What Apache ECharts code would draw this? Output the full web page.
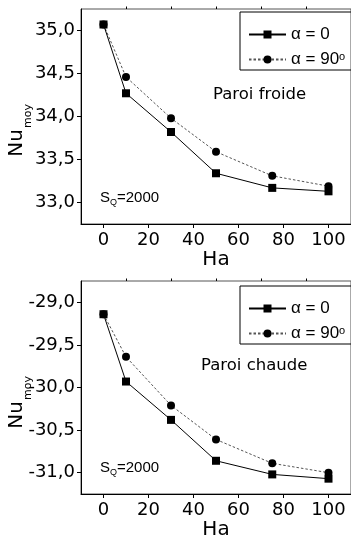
<!DOCTYPE html>
<html>
<head>
<meta charset="utf-8">
<script src="https://cdn.jsdelivr.net/npm/echarts@6/dist/echarts.min.js"></script>
<style>
html,body{margin:0;padding:0;background:#fff;}
#c{width:351px;height:543px;}
</style>
</head>
<body>
<div id="c"></div>
<script>
const haValues = [0, 10, 30, 50, 75, 100];
const coldAlpha0 = [35.07, 34.27, 33.82, 33.34, 33.17, 33.13];
const coldAlpha90 = [35.07, 34.46, 33.98, 33.59, 33.31, 33.19];
const hotAlpha0 = [-29.14, -29.93, -30.38, -30.86, -31.02, -31.07];
const hotAlpha90 = [-29.14, -29.64, -30.21, -30.61, -30.89, -31.00];
const xTicks = [0, 20, 40, 60, 80, 100];
const xMinorTicks = [10, 30, 50, 70, 90];
const coldYTicks = [33.0, 33.5, 34.0, 34.5, 35.0];
const coldYMinor = [33.25, 33.75, 34.25, 34.75];
const hotYTicks = [-31.0, -30.5, -30.0, -29.5, -29.0];
const hotYMinor = [-30.75, -30.25, -29.75, -29.25];
const seriesNames = ['α = 0', 'α = 90°'];

const FONT = 'DejaVu Sans';
const chart = echarts.init(document.getElementById('c'), null, {renderer: 'canvas'});

function pairs(xs, ys) { return xs.map((x, i) => [x, ys[i]]); }
function fmt(v) { return v.toFixed(1).replace('.', ','); }

function mainX(gi) {
  return {
    type: 'value', gridIndex: gi, min: -10, max: 110,
    name: 'Ha', nameLocation: 'middle', nameGap: 26,
    nameTextStyle: {fontFamily: FONT, fontSize: 20, color: '#000'},
    axisLine: {show: true, onZero: false, lineStyle: {color: '#000', width: 1}},
    axisTick: {show: true, inside: false, length: 4, customValues: xTicks, lineStyle: {color: '#000'}},
    axisLabel: {show: true, customValues: xTicks, margin: 7, fontFamily: FONT, fontSize: 18, color: '#000'},
    splitLine: {show: false}
  };
}
function minorX(gi) {
  return {
    type: 'value', gridIndex: gi, min: -10, max: 110,
    axisLine: {show: false, onZero: false},
    axisTick: {show: true, length: 2.5, customValues: xMinorTicks, lineStyle: {color: '#000'}},
    axisLabel: {show: false},
    splitLine: {show: false}
  };
}
function mainY(gi, mn, mx, ticks) {
  return {
    type: 'value', gridIndex: gi, min: mn, max: mx,
    axisLine: {show: true, onZero: false, lineStyle: {color: '#000', width: 1}},
    axisTick: {show: true, length: 4, customValues: ticks, lineStyle: {color: '#000'}},
    axisLabel: {show: true, customValues: ticks, margin: 6, fontFamily: FONT, fontSize: 18, color: '#000', formatter: fmt},
    splitLine: {show: false}
  };
}
function minorY(gi, mn, mx, ticks) {
  return {
    type: 'value', gridIndex: gi, min: mn, max: mx,
    axisLine: {show: false, onZero: false},
    axisTick: {show: true, length: 2.5, customValues: ticks, lineStyle: {color: '#000'}},
    axisLabel: {show: false},
    splitLine: {show: false}
  };
}
function s0(name, xi, yi, data) {
  return {
    name: name, type: 'line', xAxisIndex: xi, yAxisIndex: yi, data: data,
    symbol: 'rect', symbolSize: 8, z: 4,
    lineStyle: {color: '#000', width: 1, type: 'solid'},
    itemStyle: {color: '#000'},
    animation: false
  };
}
function s90(name, xi, yi, data) {
  return {
    name: name, type: 'line', xAxisIndex: xi, yAxisIndex: yi, data: data,
    symbol: 'circle', symbolSize: 8, z: 3,
    lineStyle: {color: '#555', width: 1, type: [2.5, 2]},
    itemStyle: {color: '#000'},
    animation: false
  };
}
function legend(top) {
  return {
    left: 240, top: top, orient: 'vertical',
    data: seriesNames,
    itemWidth: 37, itemHeight: 10, itemGap: 8,
    padding: [14, 8, 2, 8],
    borderColor: '#000', borderWidth: 1,
    selectedMode: false,
    textStyle: {fontFamily: 'Liberation Sans', fontSize: 17, color: '#000',
      rich: {sup: {fontFamily: 'Liberation Sans', fontSize: 11, verticalAlign: 'top'}}},
    formatter: function (n) { return n === 'α = 90°' ? 'α = 90{sup|o}' : n; }
  };
}
function yName(cy) {
  return [
    {type: 'text', x: 17, y: cy, rotation: Math.PI / 2,
     style: {text: 'Nu', fontFamily: FONT, fontSize: 20, fill: '#000', textAlign: 'center', textVerticalAlign: 'middle'}},
    {type: 'text', x: 28, y: cy - 27, rotation: Math.PI / 2,
     style: {text: 'moy', fontFamily: FONT, fontSize: 11, fill: '#000', textAlign: 'center', textVerticalAlign: 'middle'}}
  ];
}
function sq(cx, cy) {
  return [
    {type: 'text', x: cx, y: cy, style: {text: 'S', fontFamily: 'Liberation Sans', fontSize: 15, fill: '#000', textAlign: 'left', textVerticalAlign: 'middle'}},
    {type: 'text', x: cx + 10, y: cy + 5, style: {text: 'Q', fontFamily: 'Liberation Sans', fontSize: 9, fill: '#000', textAlign: 'left', textVerticalAlign: 'middle'}},
    {type: 'text', x: cx + 17, y: cy, style: {text: '=2000', fontFamily: 'Liberation Sans', fontSize: 15, fill: '#000', textAlign: 'left', textVerticalAlign: 'middle'}}
  ];
}

const option = {
  backgroundColor: '#fff',
  animation: false,
  grid: [
    {left: 81, top: 9, width: 274, height: 215, show: true, borderColor: '#555', borderWidth: 1, backgroundColor: 'transparent'},
    {left: 81, top: 281, width: 274, height: 213, show: true, borderColor: '#555', borderWidth: 1, backgroundColor: 'transparent'}
  ],
  xAxis: [mainX(0), minorX(0), mainX(1), minorX(1)],
  yAxis: [mainY(0, 32.75, 35.25, coldYTicks), minorY(0, 32.75, 35.25, coldYMinor),
          mainY(1, -31.25, -28.75, hotYTicks), minorY(1, -31.25, -28.75, hotYMinor)],
  legend: [legend(12), legend(286)],
  series: [
    s90(seriesNames[1], 0, 0, pairs(haValues, coldAlpha90)),
    s0(seriesNames[0], 0, 0, pairs(haValues, coldAlpha0)),
    s90(seriesNames[1], 2, 2, pairs(haValues, hotAlpha90)),
    s0(seriesNames[0], 2, 2, pairs(haValues, hotAlpha0))
  ],
  graphic: [].concat(
    yName(143), yName(415),
    [{type: 'text', x: 213, y: 95, style: {text: 'Paroi froide', fontFamily: FONT, fontSize: 16.5, fill: '#000', textVerticalAlign: 'middle'}},
     {type: 'text', x: 201, y: 366, style: {text: 'Paroi chaude', fontFamily: FONT, fontSize: 16.5, fill: '#000', textVerticalAlign: 'middle'}}],
    sq(100, 198), sq(100, 468)
  )
};
chart.setOption(option);
</script>
</body>
</html>
